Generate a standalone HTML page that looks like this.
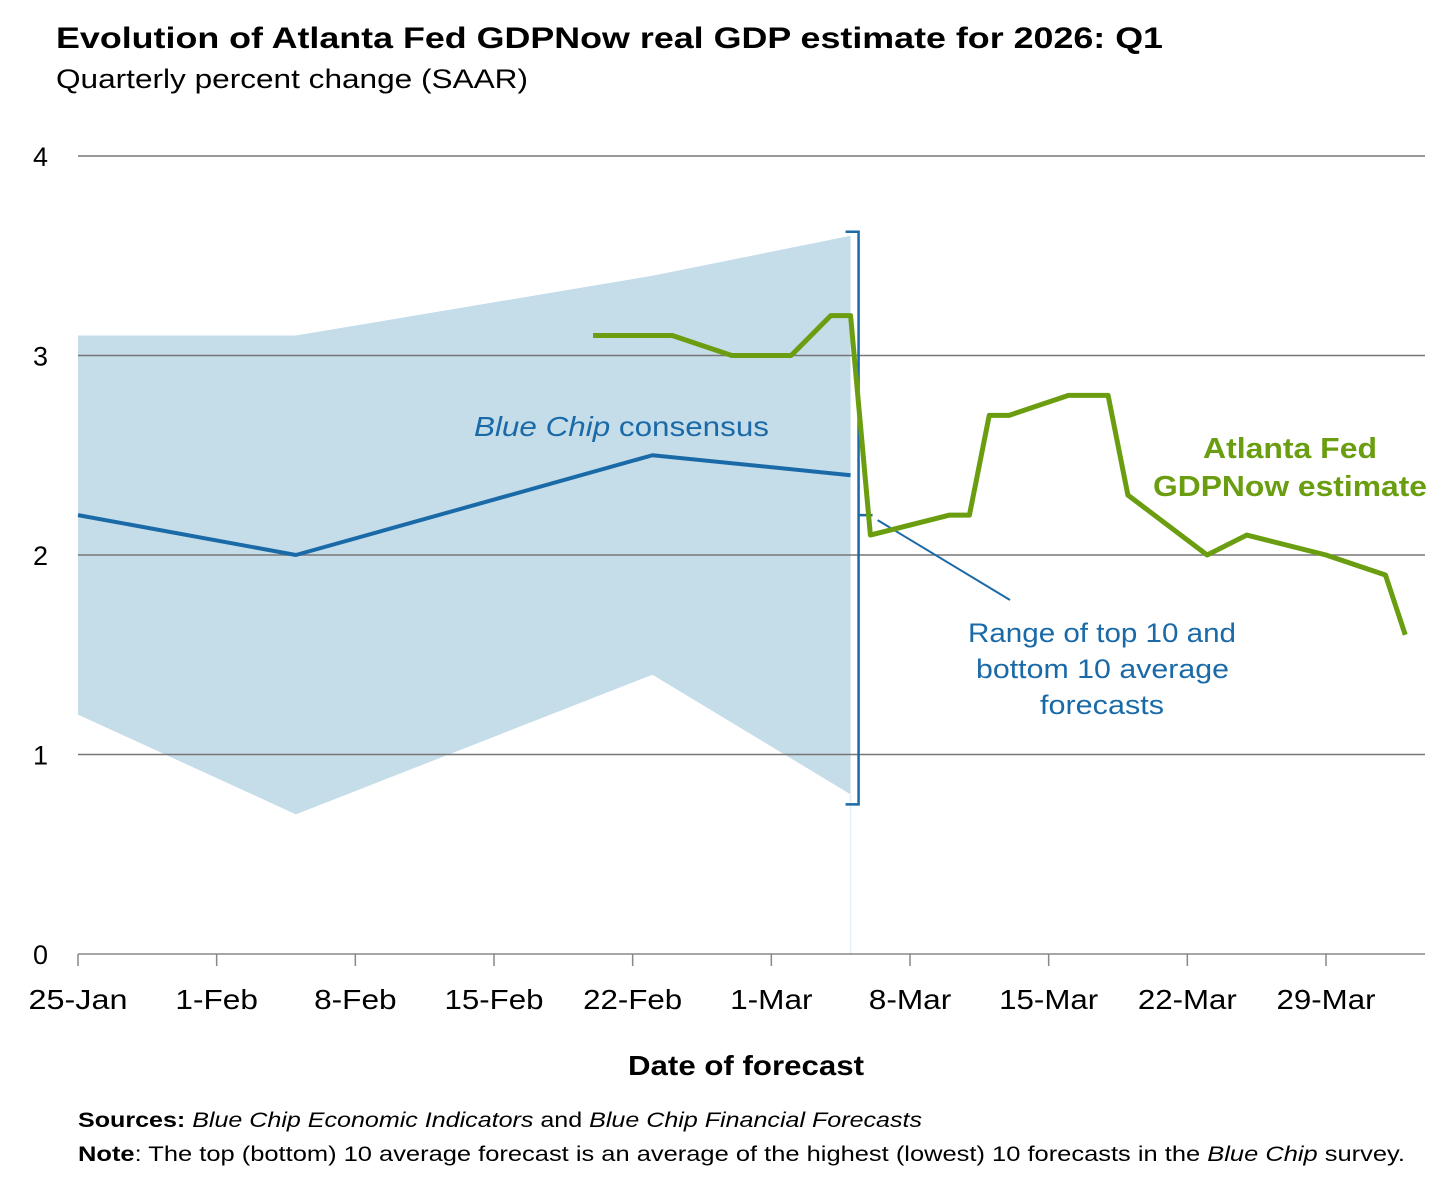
<!DOCTYPE html>
<html><head><meta charset="utf-8"><style>
body{margin:0;background:#fff;font-family:"Liberation Sans",sans-serif;}
</style></head><body>
<svg width="1456" height="1193" style="display:block">
<text x="56" y="48" font-size="30" font-weight="bold" fill="#000" textLength="1107" lengthAdjust="spacingAndGlyphs">Evolution of Atlanta Fed GDPNow real GDP estimate for 2026: Q1</text>
<text x="56" y="88" font-size="27" fill="#000" textLength="472" lengthAdjust="spacingAndGlyphs">Quarterly percent change (SAAR)</text>
<g id="plot"></g>
<g id="grid"></g>
<g id="lines"></g>
<text x="628" y="1075" font-size="28" font-weight="bold" textLength="236" lengthAdjust="spacingAndGlyphs">Date of forecast</text>
<text x="78" y="1127" font-size="21" textLength="844" lengthAdjust="spacingAndGlyphs"><tspan font-weight="bold">Sources:</tspan> <tspan font-style="italic">Blue Chip Economic Indicators</tspan> and <tspan font-style="italic">Blue Chip Financial Forecasts</tspan></text>
<text x="78" y="1161" font-size="21" textLength="1327" lengthAdjust="spacingAndGlyphs"><tspan font-weight="bold">Note</tspan>: The top (bottom) 10 average forecast is an average of the highest (lowest) 10 forecasts in the <tspan font-style="italic">Blue Chip</tspan> survey.</text>
<text x="474" y="436" font-size="28" fill="#1a6aa8" textLength="295" lengthAdjust="spacingAndGlyphs"><tspan font-style="italic">Blue Chip</tspan> consensus</text>
<text x="1203" y="458" font-size="29" font-weight="bold" fill="#6a9e10" textLength="174" lengthAdjust="spacingAndGlyphs">Atlanta Fed</text>
<text x="1153" y="496" font-size="29" font-weight="bold" fill="#6a9e10" textLength="274" lengthAdjust="spacingAndGlyphs">GDPNow estimate</text>
<g font-size="27" fill="#1a6aa8">
<text x="968" y="642" textLength="268" lengthAdjust="spacingAndGlyphs">Range of top 10 and</text>
<text x="976" y="678" textLength="253" lengthAdjust="spacingAndGlyphs">bottom 10 average</text>
<text x="1040" y="714" textLength="124" lengthAdjust="spacingAndGlyphs">forecasts</text>
</g>
</svg>
<script>
const xTickLabels=["25-Jan","1-Feb","8-Feb","15-Feb","22-Feb","1-Mar","8-Mar","15-Mar","22-Mar","29-Mar"];
const yTicks=[0,1,2,3,4];
const bandDays=[0,11,29,39];
const bandTop=[3.1,3.1,3.4,3.6];
const bandBottom=[1.2,0.7,1.4,0.8];
const consensus=[2.2,2.0,2.5,2.4];
const gdpDays=[26,30,33,36,38,39,40,44,45,46,47,50,52,53,57,59,63,66,67];
const gdpValues=[3.1,3.1,3.0,3.0,3.2,3.2,2.1,2.2,2.2,2.7,2.7,2.8,2.8,2.3,2.0,2.1,2.0,1.9,1.6];
const NS="http://www.w3.org/2000/svg";
const X=d=>78+d*(1248/63);
const Y=v=>954-v*199.5;
function mk(tag,attrs,parent){const e=document.createElementNS(NS,tag);for(const k in attrs)e.setAttribute(k,attrs[k]);parent.appendChild(e);return e;}
const grid=document.getElementById('grid'),plot=document.getElementById('plot'),lines=document.getElementById('lines');
yTicks.forEach(v=>{
 const l=mk('line',{x1:78,x2:1425,y1:Y(v),y2:Y(v),stroke:v===0?'#888':'#777','stroke-width':1.5},grid);
 
 
 const t=mk('text',{x:48,y:Y(v)+10,'font-size':27,'text-anchor':'end'},grid);t.textContent=v;
 
 
});
xTickLabels.forEach((s,i)=>{
 const x=X(i*7);
 const l=mk('line',{x1:x,x2:x,y1:954,y2:966,stroke:'#888','stroke-width':1.5},grid);
 
 
 const t=mk('text',{x:x,y:1009,'font-size':28,'text-anchor':'middle',textLength:s.length*16.5,lengthAdjust:'spacingAndGlyphs'},grid);t.textContent=s;
 
 
});
let pts=bandDays.map((d,i)=>X(d)+','+Y(bandTop[i])).concat(bandDays.slice().reverse().map((d,j)=>{const i=bandDays.length-1-j;return X(d)+','+Y(bandBottom[i]);}));
const band=mk('polygon',{points:pts.join(' '),fill:'#c5dce9'},plot);


const lastX=X(bandDays[bandDays.length-1]);
const vl=mk('line',{x1:lastX,x2:lastX,y1:Y(bandBottom[3]),y2:954,stroke:'#e3eef5','stroke-width':1.5},plot);


const cl=mk('polyline',{points:bandDays.map((d,i)=>X(d)+','+Y(consensus[i])).join(' '),fill:'none',stroke:'#1a6aa8','stroke-width':4,'stroke-linejoin':'round'},lines);


const bx=lastX+8,bt=Y(bandTop[3])-4,bb=Y(bandBottom[3])+10,bm=Y((bandTop[3]+bandBottom[3])/2);
const br=mk('path',{d:`M${bx-13},${bt} H${bx} V${bb} H${bx-13} M${bx},${bm} H${bx+14}`,fill:'none',stroke:'#1a6aa8','stroke-width':2.5},lines);


const al=mk('line',{x1:bx+19,y1:bm+5,x2:1010,y2:600,stroke:'#1a6aa8','stroke-width':2},lines);


const gl=mk('polyline',{points:gdpDays.map((d,i)=>X(d)+','+Y(gdpValues[i])).join(' '),fill:'none',stroke:'#6a9e10','stroke-width':5,'stroke-linejoin':'round'},lines);


</script>
</body></html>
